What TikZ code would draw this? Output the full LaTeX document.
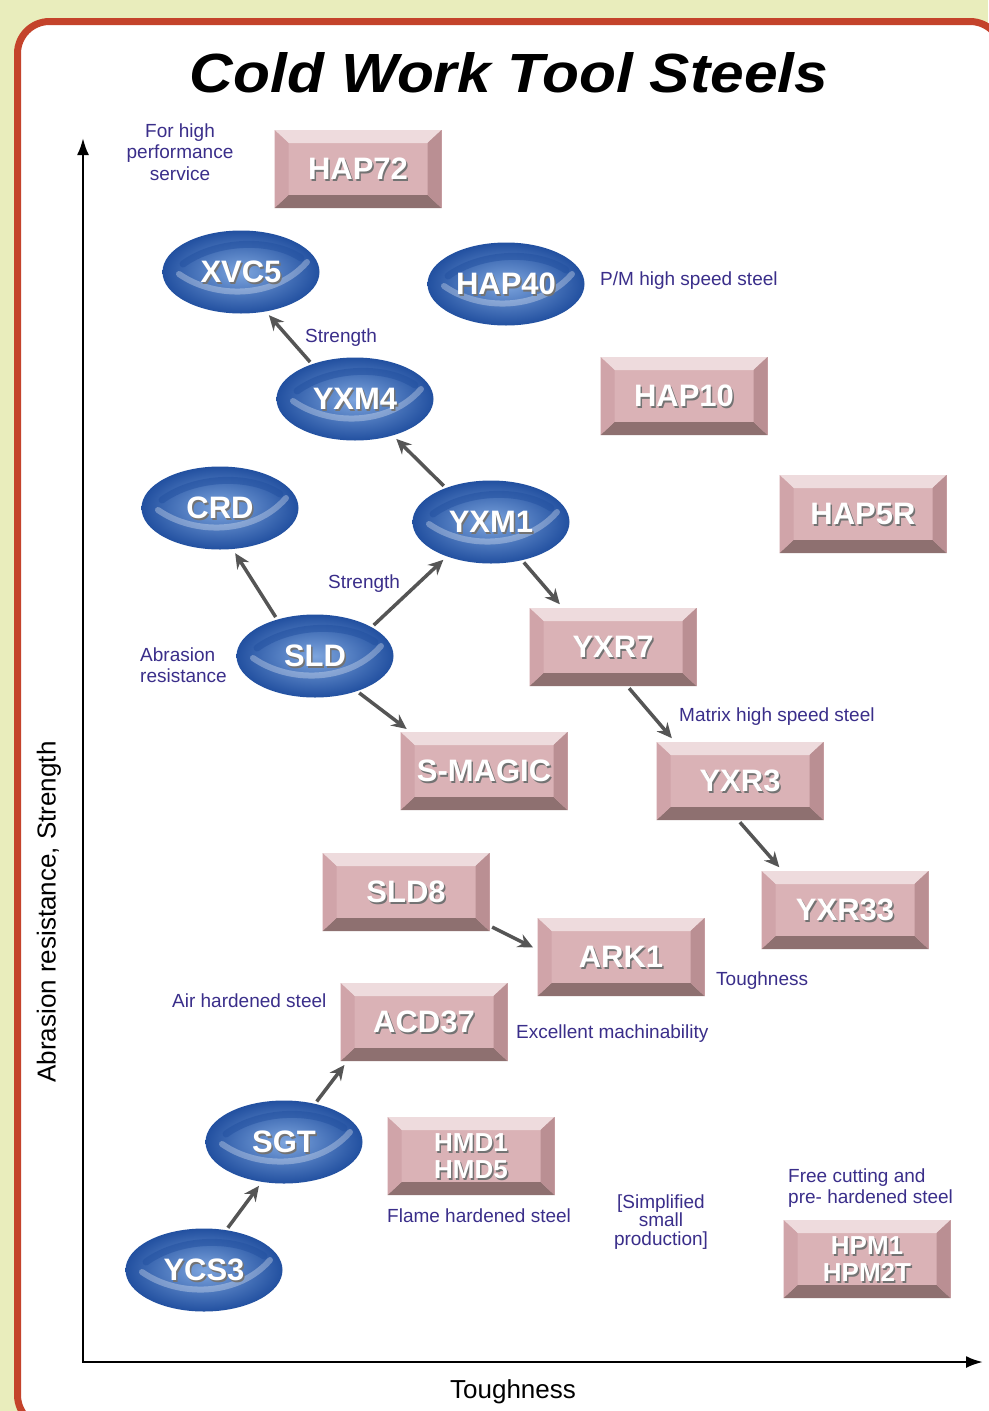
\documentclass[tikz,border=0pt]{standalone}
\usepackage{graphicx}
\usepackage{fontspec}
\setmainfont{Liberation Sans}
\usetikzlibrary{shapes.geometric,arrows.meta}
\definecolor{paper}{RGB}{233,237,188}
\definecolor{framered}{RGB}{196,67,43}
\definecolor{remarkblue}{RGB}{58,46,138}
\definecolor{boxface}{RGB}{218,178,182}
\definecolor{boxtop}{RGB}{238,219,221}
\definecolor{boxleft}{RGB}{208,164,169}
\definecolor{boxright}{RGB}{186,143,147}
\definecolor{boxbottom}{RGB}{142,112,112}
\definecolor{ovaldark}{RGB}{34,80,160}
\definecolor{ovallight}{RGB}{125,165,222}
\definecolor{flow}{RGB}{85,85,85}
\newcommand\embossed[1]{\makebox[0pt][l]{\hspace{1.5pt}\raisebox{-2pt}[0pt][0pt]{\textcolor{black!55}{#1}}}#1}
\tikzset{
  steelbox/.style={
    rectangle, minimum width=167pt, minimum height=78pt,
    inner sep=0pt, outer sep=0pt, fill=boxface, text=white,
    font=\fontsize{31}{31}\selectfont\bfseries,
    path picture={
      \coordinate (bnw) at (path picture bounding box.north west);
      \coordinate (bne) at (path picture bounding box.north east);
      \coordinate (bsw) at (path picture bounding box.south west);
      \coordinate (bse) at (path picture bounding box.south east);
      \fill[boxtop] (bnw) -- (bne) -- ([shift={(-14pt,-13pt)}]bne) -- ([shift={(14pt,-13pt)}]bnw) -- cycle;
      \fill[boxbottom] (bsw) -- (bse) -- ([shift={(-14pt,13pt)}]bse) -- ([shift={(14pt,13pt)}]bsw) -- cycle;
      \fill[boxleft] (bnw) -- ([shift={(14pt,-13pt)}]bnw) -- ([shift={(14pt,13pt)}]bsw) -- (bsw) -- cycle;
      \fill[boxright] (bne) -- ([shift={(-14pt,-13pt)}]bne) -- ([shift={(-14pt,13pt)}]bse) -- (bse) -- cycle;
    }
  },
  steeloval/.style={
    ellipse, minimum width=157pt, minimum height=83pt,
    inner sep=0pt, outer sep=0pt, inner color=ovallight, outer color=ovaldark,
    text=white, font=\fontsize{31}{31}\selectfont\bfseries,
    path picture={
      \coordinate (oc) at (path picture bounding box.center);
      \draw[ovaldark, opacity=0.5, line width=7pt, line cap=round]
        ([shift={(-58pt,8pt)}]oc) .. controls ([shift={(-25pt,32pt)}]oc) and ([shift={(30pt,34pt)}]oc) .. ([shift={(60pt,14pt)}]oc);
      \draw[white, opacity=0.3, line width=6pt, line cap=round]
        ([shift={(-62pt,-2pt)}]oc) .. controls ([shift={(-25pt,-28pt)}]oc) and ([shift={(35pt,-26pt)}]oc) .. ([shift={(66pt,10pt)}]oc);
    }
  },
  twoline/.style={align=center, font=\fontsize{26}{27}\selectfont\bfseries},
  remark/.style={text=remarkblue, font=\fontsize{19}{21.5}\selectfont, inner sep=0pt},
  axislabel/.style={font=\fontsize{26}{30}\selectfont, inner sep=0pt},
  axisline/.style={line width=2.5pt, line cap=rect, -{Latex[length=17pt,width=12pt]}},
  flowarrow/.style={draw=flow, line width=3.5pt, -{Stealth[length=15pt,width=14pt,inset=5pt]},
    shorten <=3pt, shorten >=5pt}
}
\begin{document}
\begin{tikzpicture}[x=1pt,y=-1pt]
  \useasboundingbox (0,0) rectangle (988,1411);
  \fill[paper] (0,0) rectangle (988,1411);
  \draw[framered, line width=7pt, fill=white, rounded corners=32pt] (17.5,21.5) rectangle (1002,1427);

  \node[anchor=base] (title) at (509,92) {\resizebox{638pt}{40pt}{\bfseries\itshape Cold Work Tool Steels}};

  \coordinate (origin) at (83,1362);
  \coordinate (yend) at (83,138);
  \coordinate (xend) at (983,1362);
  \draw[axisline] (origin) -- (yend);
  \draw[axisline] (origin) -- (xend);
  \node[axislabel, anchor=base] (xlabel) at (513,1398) {Toughness};
  \node[axislabel, rotate=90] (ylabel) at (49,912) {Abrasion resistance, Strength};

  \node[steelbox] (hap72) at (358,169) {\embossed{HAP72}};
  \node[steeloval] (xvc5) at (241,272) {\embossed{XVC5}};
  \node[steeloval] (hap40) at (506,284) {\embossed{HAP40}};
  \node[steeloval] (yxm4) at (355,399) {\embossed{YXM4}};
  \node[steelbox] (hap10) at (684,396) {\embossed{HAP10}};
  \node[steeloval] (crd) at (220,508) {\embossed{CRD}};
  \node[steeloval] (yxm1) at (491,522) {\embossed{YXM1}};
  \node[steelbox] (hap5r) at (863,514) {\embossed{HAP5R}};
  \node[steeloval] (sld) at (315,656) {\embossed{SLD}};
  \node[steelbox] (yxr7) at (613,647) {\embossed{YXR7}};
  \node[steelbox] (smagic) at (484,771) {\embossed{S-MAGIC}};
  \node[steelbox] (yxr3) at (740,781) {\embossed{YXR3}};
  \node[steelbox] (sld8) at (406,892) {\embossed{SLD8}};
  \node[steelbox] (yxr33) at (845,910) {\embossed{YXR33}};
  \node[steelbox] (ark1) at (621,957) {\embossed{ARK1}};
  \node[steelbox] (acd37) at (424,1022) {\embossed{ACD37}};
  \node[steeloval] (sgt) at (284,1142) {\embossed{SGT}};
  \node[steelbox, twoline] (hmd) at (471,1156) {\embossed{HMD1}\\\embossed{HMD5}};
  \node[steeloval] (ycs3) at (204,1270) {\embossed{YCS3}};
  \node[steelbox, twoline] (hpm) at (867,1259) {\embossed{HPM1}\\\embossed{HPM2T}};

  \node[remark, align=center] (highnote) at (180,152) {For high\\performance\\service};
  \node[remark, anchor=west] (pmnote) at (600,281) {P/M high speed steel};
  \node[remark, anchor=west] (strengthtop) at (305,338) {Strength};
  \node[remark, anchor=west] (strengthmid) at (328,584) {Strength};
  \node[remark, align=left, anchor=west] (abrasion) at (140,665) {Abrasion\\resistance};
  \node[remark, anchor=west] (matrix) at (679,717) {Matrix high speed steel};
  \node[remark, anchor=west] (toughnote) at (716,981) {Toughness};
  \node[remark, anchor=west] (airnote) at (172,1001) {Air hardened steel};
  \node[remark, anchor=west] (machnote) at (516,1034) {Excellent machinability};
  \node[remark, anchor=west] (flamenote) at (387,1216) {Flame hardened steel};
  \node[remark, align=center, font=\fontsize{19}{18.5}\selectfont] (smallnote) at (661,1222) {[Simplified\\small\\production]};
  \node[remark, align=left, anchor=west] (freenote) at (788,1188) {Free cutting and\\pre- hardened steel};

  \draw[flowarrow] (yxm4.141) -- (xvc5.-58);
  \draw[flowarrow] (yxm1.143) -- (yxm4.-44);
  \draw[flowarrow] (sld.136) -- (crd.-73);
  \draw[flowarrow] (sld.27) -- (yxm1.-142);
  \draw[flowarrow] (yxm1.-51) -- (yxr7.142);
  \draw[flowarrow] (sld.-40) -- (smagic.152);
  \draw[flowarrow] (yxr7.-70) -- (yxr3.149);
  \draw[flowarrow] (yxr3.-93) -- (yxr33.148);
  \draw[flowarrow] (sld8.-22) -- (ark1.175);
  \draw[flowarrow] (sgt.51) -- (acd37.-153);
  \draw[flowarrow] (ycs3.61) -- (sgt.-119);
\end{tikzpicture}
\end{document}
